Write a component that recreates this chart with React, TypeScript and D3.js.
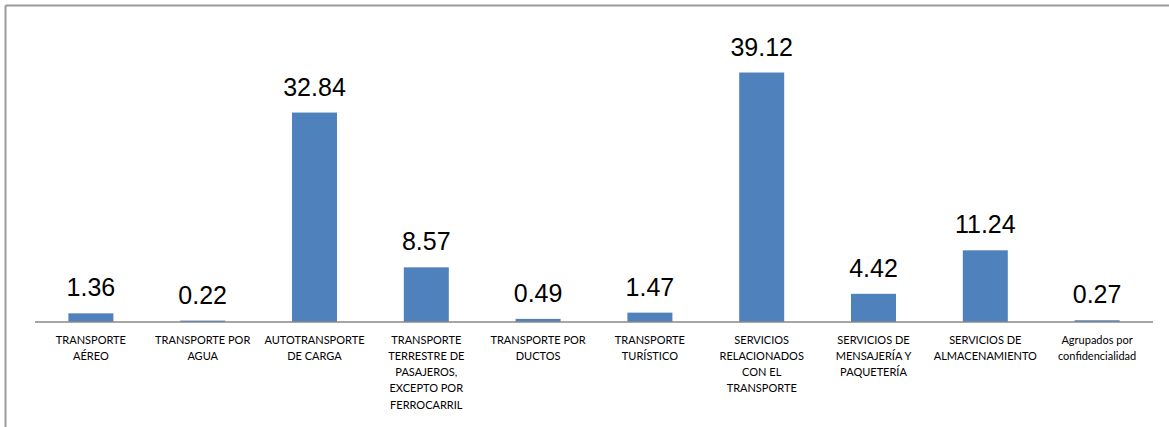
import React from "react";
import * as d3 from "d3";

const categories: string[][] = [
  ["TRANSPORTE", "AÉREO"],
  ["TRANSPORTE POR", "AGUA"],
  ["AUTOTRANSPORTE", "DE CARGA"],
  ["TRANSPORTE", "TERRESTRE DE", "PASAJEROS,", "EXCEPTO POR", "FERROCARRIL"],
  ["TRANSPORTE POR", "DUCTOS"],
  ["TRANSPORTE", "TURÍSTICO"],
  ["SERVICIOS", "RELACIONADOS", "CON EL", "TRANSPORTE"],
  ["SERVICIOS DE", "MENSAJERÍA Y", "PAQUETERÍA"],
  ["SERVICIOS DE", "ALMACENAMIENTO"],
  ["Agrupados por", "confidencialidad"],
];
const values: number[] = [1.36, 0.22, 32.84, 8.57, 0.49, 1.47, 39.12, 4.42, 11.24, 0.27];
const valueLabels: string[] = ["1.36", "0.22", "32.84", "8.57", "0.49", "1.47", "39.12", "4.42", "11.24", "0.27"];

const W = 1169;
const H = 427;
const left = 35;
const right = 1153;
const baseY = 322;

export default function App() {
  const idx = categories.map((_, i) => String(i));
  const x = d3.scaleBand<string>().domain(idx).range([left, right]).paddingInner(0.6).paddingOuter(0.3);
  const y = d3.scaleLinear().domain([0, 45]).range([baseY, 35]);
  const bw = 45;
  return (
    <svg width={W} height={H} style={{ position: "absolute", left: 0, top: 0, background: "#fff" }}>
      <line x1={5.5} y1={5.5} x2={W} y2={5.5} stroke="#9a9a9a" strokeWidth={2} />
      <line x1={5.5} y1={5.5} x2={5.5} y2={H} stroke="#9a9a9a" strokeWidth={2} />
      {values.map((v, i) => {
        const cx = (x(String(i)) as number) + x.bandwidth() / 2;
        return (
          <g key={i}>
            <rect x={cx - bw / 2} y={y(v)} width={bw} height={baseY - y(v)} fill="#4F81BD" />
            <text
              x={cx}
              y={y(v) - 17}
              textAnchor="middle"
              fontFamily="'Liberation Sans', Arial, sans-serif"
              fontSize={25}
              fill="#000"
            >
              {valueLabels[i]}
            </text>
            {categories[i].map((line, j) => (
              <text
                key={j}
                x={cx}
                y={343.5 + j * 16.3}
                textAnchor="middle"
                fontFamily="Lato, 'Open Sans', sans-serif"
                fontSize={11}
                fill="#000"
              >
                {line}
              </text>
            ))}
          </g>
        );
      })}
      <line x1={left} y1={baseY} x2={right} y2={baseY} stroke="#888" strokeWidth={1.5} />
    </svg>
  );
}
